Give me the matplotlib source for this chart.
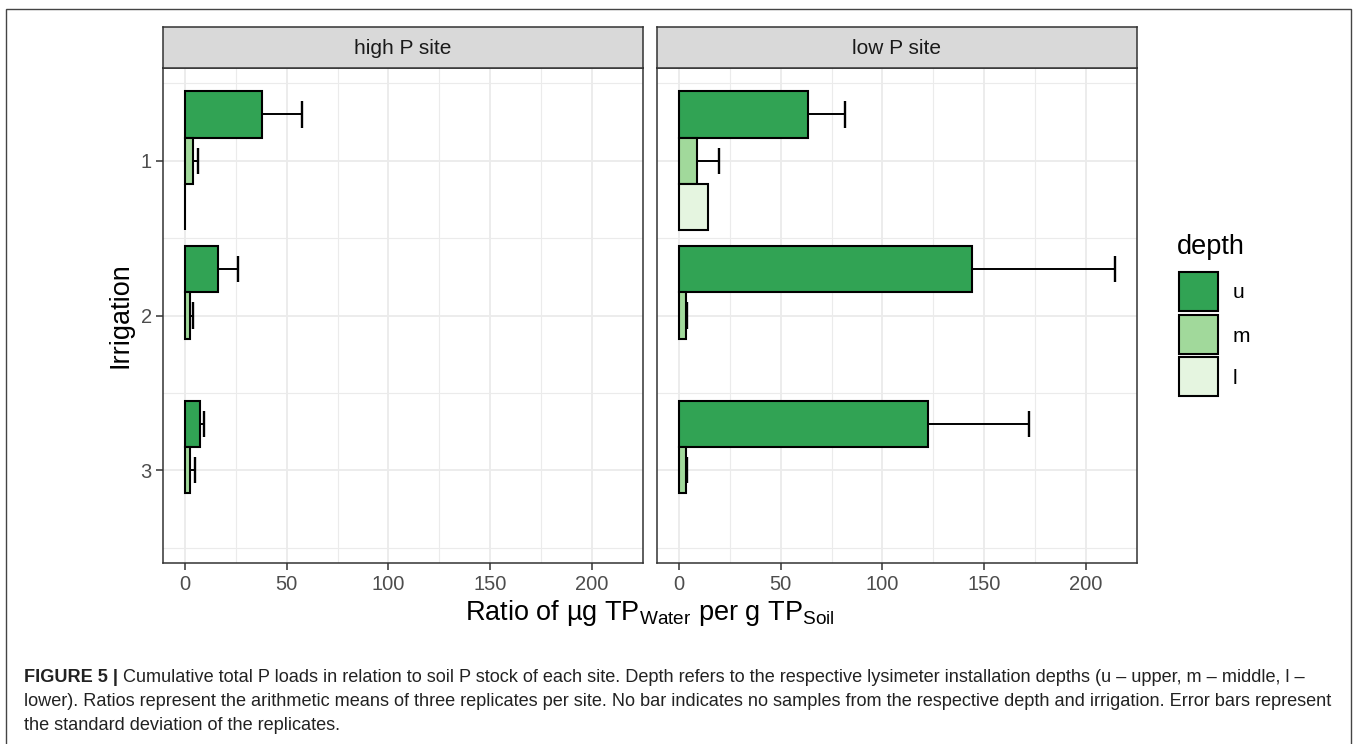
import numpy as np
import matplotlib
matplotlib.use("Agg")
import matplotlib.pyplot as plt
from matplotlib.patches import Rectangle

plt.rcParams['font.family'] = ['Liberation Sans', 'DejaVu Sans']
plt.rcParams['mathtext.fontset'] = 'custom'
plt.rcParams['mathtext.rm'] = 'Liberation Sans'
plt.rcParams['mathtext.it'] = 'Liberation Sans:italic'
plt.rcParams['mathtext.bf'] = 'Liberation Sans:bold'

# ---------------- data ----------------
sites = ["high P site", "low P site"]
irrigation = [1, 2, 3]
depths = ["u", "m", "l"]
depth_colors = ["#31a354", "#a1d99b", "#e5f5e0"]

nan = np.nan
high_u = [37.7, 16.3, 7.5]
high_u_sd = [19.8, 9.7, 1.7]
high_m = [3.8, 2.6, 2.8]
high_m_sd = [2.9, 1.3, 2.0]
high_l = [0.0, nan, nan]
high_l_sd = [0.0, nan, nan]

low_u = [63.6, 144.2, 122.5]
low_u_sd = [17.9, 70.0, 49.5]
low_m = [8.8, 3.3, 3.4]
low_m_sd = [11.0, 0.6, 0.5]
low_l = [14.1, nan, nan]
low_l_sd = [nan, nan, nan]

x_ticks = [0, 50, 100, 150, 200]
x_minor = [25, 75, 125, 175, 225]

site_data = {
    "high P site": ([high_u, high_m, high_l], [high_u_sd, high_m_sd, high_l_sd]),
    "low P site": ([low_u, low_m, low_l], [low_u_sd, low_m_sd, low_l_sd]),
}

caption_bold = "FIGURE 5 |"
caption_l1 = (" Cumulative total P loads in relation to soil P stock of each site. Depth refers to the "
              "respective lysimeter installation depths (u \u2013 upper, m \u2013 middle, l \u2013")
caption_l2 = ("lower). Ratios represent the arithmetic means of three replicates per site. No bar indicates "
              "no samples from the respective depth and irrigation. Error bars represent")
caption_l3 = "the standard deviation of the replicates."

# ---------------- figure ----------------
W, H = 1358, 744
fig = plt.figure(figsize=(W / 100, H / 100), dpi=100)

def fx(px):
    return px / W

def fy(py):
    return 1 - py / H

# outer frame
fig.patches.append(Rectangle((fx(6), fy(760)), fx(1351) - fx(6), fy(9) - fy(760),
                             transform=fig.transFigure, fill=False,
                             edgecolor="#444444", linewidth=1.0))

panel_x = [(163, 643), (657, 1137)]
top, bot = 68, 563
strip_top = 27
bar_h = 0.3
offsets = [-0.3, 0.0, 0.3]
grid_col = "#ebebeb"
dark = "#333333"

for i, site in enumerate(sites):
    x0, x1 = panel_x[i]
    ax = fig.add_axes([fx(x0), fy(bot), fx(x1) - fx(x0), fy(top) - fy(bot)])
    ax.set_xlim(-10.7, 225.0)
    ax.set_ylim(3.6, 0.4)
    # grid
    for v in x_ticks:
        ax.axvline(v, color=grid_col, lw=1.3, zorder=0)
    for v in x_minor:
        ax.axvline(v, color=grid_col, lw=0.8, zorder=0)
    for v in irrigation:
        ax.axhline(v, color=grid_col, lw=1.3, zorder=0)
    for v in [0.5, 1.5, 2.5, 3.5]:
        ax.axhline(v, color=grid_col, lw=0.8, zorder=0)

    vals, sds = site_data[site]
    for d in range(3):
        ys = [r + offsets[d] for r in irrigation]
        for y, v, s in zip(ys, vals[d], sds[d]):
            if np.isnan(v):
                continue
            ax.barh(y, v, height=bar_h, color=depth_colors[d], edgecolor="black",
                    linewidth=1.5, zorder=2)
            if not np.isnan(s) and s > 0:
                ax.plot([v, v + s], [y, y], color="black", lw=1.4, zorder=3,
                        solid_capstyle="butt")
                ax.plot([v + s, v + s], [y - 0.085, y + 0.085], color="black", lw=1.7,
                        zorder=3, solid_capstyle="butt")

    for sp in ax.spines.values():
        sp.set_color(dark)
        sp.set_linewidth(1.1)
    ax.set_xticks(x_ticks)
    ax.set_xticklabels([str(t) for t in x_ticks])
    ax.tick_params(axis="x", length=5, width=1.1, color=dark, labelcolor="#4d4d4d",
                   labelsize=14.5, pad=4)
    if i == 0:
        ax.set_yticks(irrigation)
        ax.set_yticklabels([str(t) for t in irrigation])
        ax.tick_params(axis="y", length=5, width=1.1, color=dark, labelcolor="#4d4d4d",
                       labelsize=14.5, pad=3)
        ax.set_ylabel("Irrigation", fontsize=19.5, labelpad=5)
    else:
        ax.set_yticks(irrigation)
        ax.tick_params(axis="y", length=0, labelleft=False)
    ax.set_facecolor("white")

    # strip
    sax = fig.add_axes([fx(x0), fy(top), fx(x1) - fx(x0), fy(strip_top) - fy(top)])
    sax.set_facecolor("#d9d9d9")
    sax.set_xticks([])
    sax.set_yticks([])
    for sp in sax.spines.values():
        sp.set_color(dark)
        sp.set_linewidth(1.1)
    sax.text(0.5, 0.47, site, ha="center", va="center", fontsize=15, color="#1a1a1a",
             transform=sax.transAxes)

# x axis title
fig.text(fx(650), fy(613), r"Ratio of µg TP$_{\mathrm{Water}}$ per g TP$_{\mathrm{Soil}}$",
         ha="center", va="center", fontsize=19.5)

# legend
fig.text(fx(1177), fy(247), "depth", ha="left", va="center", fontsize=19.5)
key_tops = [272, 315, 357]
for d in range(3):
    fig.patches.append(Rectangle((fx(1179), fy(key_tops[d] + 39)), fx(39), 39 / H,
                                 transform=fig.transFigure, facecolor=depth_colors[d],
                                 edgecolor="black", linewidth=1.5))
    fig.text(fx(1233), fy(key_tops[d] + 21), depths[d], ha="left", va="center", fontsize=15)

# caption
cap_fs = 13.1
t = fig.text(fx(24), fy(677), caption_bold, ha="left", va="center", fontsize=cap_fs,
             fontweight="bold", color="#222222")
fig.canvas.draw()
bb = t.get_window_extent()
fig.text(bb.x1 / W, fy(677), caption_l1, ha="left", va="center", fontsize=cap_fs, color="#222222")
fig.text(fx(24), fy(701), caption_l2, ha="left", va="center", fontsize=cap_fs, color="#222222")
fig.text(fx(24), fy(725), caption_l3, ha="left", va="center", fontsize=cap_fs, color="#222222")

fig.savefig("out.png", dpi=100)
